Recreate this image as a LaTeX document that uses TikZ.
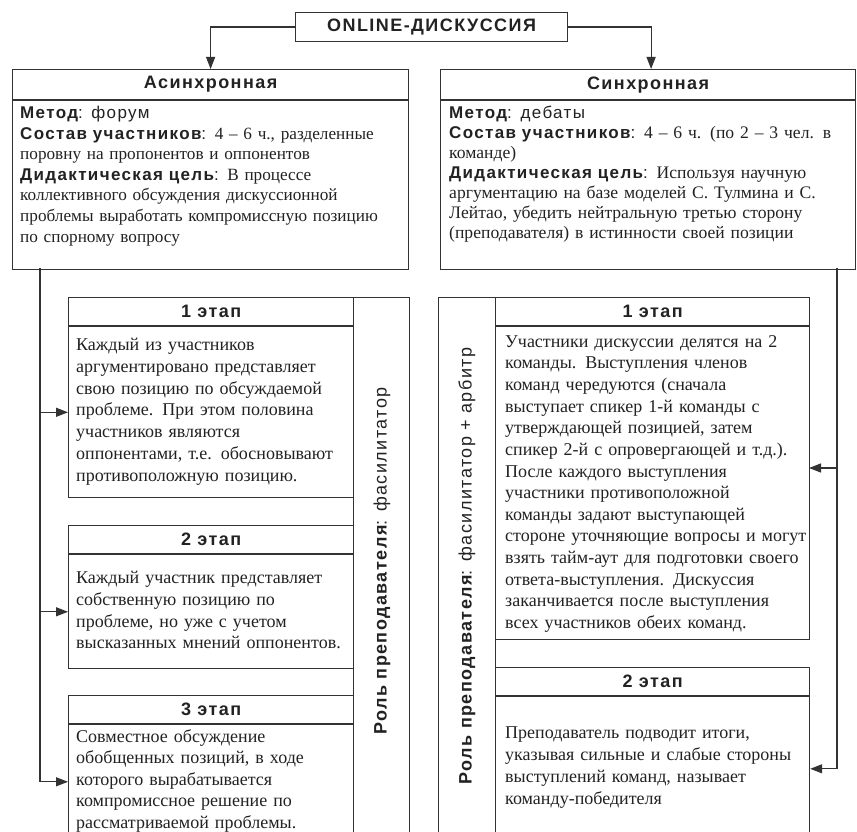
\documentclass[tikz,border=0pt]{standalone}
\usepackage{fontspec}
\setmainfont{Liberation Serif}
\setsansfont{Liberation Sans}[LetterSpace=8]
\usetikzlibrary{arrows.meta}
\definecolor{ln}{HTML}{333333}
\definecolor{tx}{HTML}{222222}
\newcommand\Bs[1]{{\sffamily\bfseries\fontsize{17}{20}\selectfont #1}}
\newcommand\Rs[1]{{\sffamily\fontsize{17}{20}\selectfont #1}}
\tikzset{
  box/.style={draw=ln, line width=1.2pt, fill=white, inner sep=0pt, anchor=north west, text=tx},
  hdr/.style={box, font=\sffamily\bfseries\fontsize{18}{20}\selectfont},
  toptxt/.style={anchor=north west, inner sep=0pt, align=left, text width=410pt, text=tx, font=\fontsize{17.2}{20.6}\selectfont},
  stagetxt/.style={anchor=north west, inner sep=0pt, align=left, text width=320pt, text=tx, font=\fontsize{18}{21.8}\selectfont},
  roletxt/.style={rotate=90, inner sep=0pt, text=tx, font=\sffamily\fontsize{18}{20}\selectfont},
  con/.style={draw=ln, line width=1.2pt},
  arr/.style={con, -{Triangle[length=12pt,width=9pt]}}
}
\begin{document}
\begin{tikzpicture}[x=1pt,y=-1pt]
\useasboundingbox (0,0) rectangle (857,832);
\clip (0,0) rectangle (857,832);
\fill[white] (0,0) rectangle (857,832);

% top
\node[hdr, minimum width=272pt, minimum height=29pt] (top) at (295,12) {ONLINE-ДИСКУССИЯ};

% asynchronous
\node[hdr, minimum width=396pt, minimum height=30pt] (ash) at (12,69) {Асинхронная};
\node[box, minimum width=396pt, minimum height=169pt] (asb) at (ash.south west) {};
\node[toptxt] (ast) at (20,106) {\Bs{Метод}\Rs{: форум}\\
\Bs{Состав участников}\Rs{:} 4 – 6 ч., разделенные\\
поровну на пропонентов и оппонентов\\
\Bs{Дидактическая цель}\Rs{:} В процессе\\
коллективного обсуждения дискуссионной\\
проблемы выработать компромиссную позицию\\
по спорному вопросу};

% synchronous
\node[hdr, minimum width=415pt, minimum height=30pt] (sh) at (440,69) {Синхронная};
\node[box, minimum width=415pt, minimum height=169pt] (sb) at (sh.south west) {};
\node[toptxt, font=\fontsize{17.6}{20}\selectfont] (sbt) at (449,106) {\Bs{Метод}\Rs{: дебаты}\\
\Bs{Состав участников}\Rs{:} 4 – 6 ч. (по 2 – 3 чел. в\\
команде)\\
\Bs{Дидактическая цель}\Rs{:} Используя научную\\
аргументацию на базе моделей С. Тулмина и С.\\
Лейтао, убедить нейтральную третью сторону\\
(преподавателя) в истинности своей позиции};

% left role strip and stages
\node[box, minimum width=56pt, minimum height=545pt] (lr) at (353,297) {};
\node[roletxt] (lrt) at (382,561) {\bfseries Роль преподавателя\mdseries: фасилитатор};

\node[hdr, minimum width=285pt, minimum height=28pt] (l1h) at (68,297) {1 этап};
\node[box, minimum width=285pt, minimum height=171pt] (l1b) at (l1h.south west) {};
\node[stagetxt] (l1t) at (76,338) {Каждый из участников\\
аргументировано представляет\\
свою позицию по обсуждаемой\\
проблеме. При этом половина\\
участников являются\\
оппонентами, т.е. обосновывают\\
противоположную позицию.};

\node[hdr, minimum width=285pt, minimum height=28pt] (l2h) at (68,525) {2 этап};
\node[box, minimum width=285pt, minimum height=114pt] (l2b) at (l2h.south west) {};
\node[stagetxt] (l2t) at (76,571) {Каждый участник представляет\\
собственную позицию по\\
проблеме, но уже с учетом\\
высказанных мнений оппонентов.};

\node[hdr, minimum width=285pt, minimum height=28pt] (l3h) at (68,695) {3 этап};
\node[box, minimum width=285pt, minimum height=114pt] (l3b) at (l3h.south west) {};
\node[stagetxt, font=\fontsize{18}{21.5}\selectfont] (l3t) at (76,729) {Совместное обсуждение\\
обобщенных позиций, в ходе\\
которого вырабатывается\\
компромиссное решение по\\
рассматриваемой проблемы.};

% right role strip and stages
\node[box, minimum width=57pt, minimum height=545pt] (rr) at (438,297) {};
\node[roletxt] (rrt) at (467,566) {\bfseries Роль преподавателя\mdseries: фасилитатор + арбитр};

\node[hdr, minimum width=314pt, minimum height=28pt] (r1h) at (495,297) {1 этап};
\node[box, minimum width=314pt, minimum height=313pt] (r1b) at (r1h.south west) {};
\node[stagetxt, font=\fontsize{18}{21.65}\selectfont] (r1t) at (505,335) {Участники дискуссии делятся на 2\\
команды. Выступления членов\\
команд чередуются (сначала\\
выступает спикер 1-й команды с\\
утверждающей позицией, затем\\
спикер 2-й с опровергающей и т.д.).\\
После каждого выступления\\
участники противоположной\\
команды задают выступающей\\
стороне уточняющие вопросы и могут\\
взять тайм-аут для подготовки своего\\
ответа-выступления. Дискуссия\\
заканчивается после выступления\\
всех участников обеих команд.};

\node[hdr, minimum width=314pt, minimum height=28pt] (r2h) at (495,667) {2 этап};
\node[box, minimum width=314pt, minimum height=144pt] (r2b) at (r2h.south west) {};
\node[stagetxt] (r2t) at (505,727) {Преподаватель подводит итоги,\\
указывая сильные и слабые стороны\\
выступлений команд, называет\\
команду-победителя};

% connectors
\draw[arr] (top.west) -| (ash.north);
\draw[arr] (top.east) -| ([xshift=3pt]sh.north);

\coordinate (lt) at (40,268);
\draw[arr] (lt) |- (l3b.west);
\draw[arr] (lt |- l1b.west) -- (l1b.west);
\draw[arr] (lt |- l2b.west) -- (l2b.west);

\coordinate (rt) at (837,268);
\coordinate (r1in) at (809,468);
\draw[arr] (rt) |- (r2b.east);
\draw[arr] (rt |- r1in) -- (r1in);
\end{tikzpicture}
\end{document}
